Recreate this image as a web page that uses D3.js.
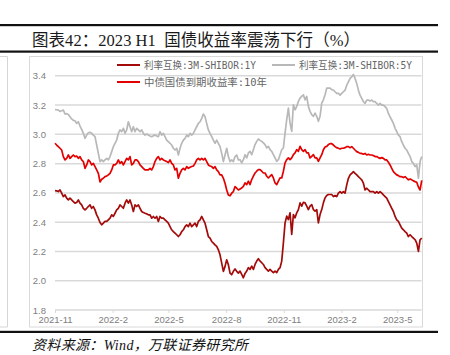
<!DOCTYPE html>
<html><head><meta charset="utf-8">
<script src="https://cdn.jsdelivr.net/npm/d3@7"></script>
<style>html,body{margin:0;padding:0;background:#fff;}svg{display:block;}</style>
</head><body>
<svg id="c" width="450" height="355"></svg>
<script>
// ---- data ----
const title = "图表42：2023 H1\u00a0\u00a0国债收益率震荡下行（%）";
const source = "资料来源：Wind，万联证券研究所";
const seriesNames = ["利率互换:3M-SHIBOR:1Y", "利率互换:3M-SHIBOR:5Y", "中债国债到期收益率:10年"];
const firstDate = new Date(2021, 10, 1);
const lastDate = new Date(2023, 5, 9);
const tickDates = [new Date(2021,10,1), new Date(2022,1,1), new Date(2022,4,1), new Date(2022,7,1), new Date(2022,10,1), new Date(2023,1,1), new Date(2023,4,1)];
const tickLabels = ["2021-11", "2022-2", "2022-5", "2022-8", "2022-11", "2023-2", "2023-5"];
const yTicks = [1.8, 2.0, 2.2, 2.4, 2.6, 2.8, 3.0, 3.2, 3.4];

const swap5Y = [
3.170,3.168,3.166,3.157,3.161,3.166,3.139,3.141,3.136,3.120,
3.105,3.095,3.093,3.075,3.086,3.057,3.034,3.007,2.973,2.995,
3.011,3.014,3.007,2.995,2.984,2.927,2.870,2.814,2.825,2.814,
2.825,2.836,2.825,2.848,2.882,2.916,2.939,2.961,3.007,3.030,
3.018,3.041,3.007,3.030,3.086,3.052,3.018,3.052,3.018,3.041,
3.030,3.018,3.030,3.007,2.995,
3.002,2.995,2.989,2.984,2.991,2.995,2.989,2.984,3.018,2.995,
3.007,2.984,2.961,2.950,2.939,2.927,2.905,2.893,2.905,2.859,
2.905,2.939,2.961,2.973,2.995,2.984,3.007,2.995,3.007,3.030,
3.052,3.075,3.086,3.109,3.139,3.120,3.075,3.030,3.007,2.984,
2.961,2.939,2.961,2.939,2.916,2.870,2.814,2.859,2.905,2.848,
2.814,2.825,2.814,2.848,2.859,2.825,
2.827,2.805,2.827,2.861,2.839,2.873,2.884,2.861,2.895,2.930,
2.952,2.968,2.959,2.952,2.941,2.930,2.907,2.918,2.895,2.884,
2.861,2.839,2.816,2.827,2.861,2.895,2.907,3.009,3.100,3.180,
3.077,3.020,3.202,3.168,3.191,3.225,3.248,3.259,3.270,3.236,
3.259,3.191,3.157,3.134,3.123,3.145,3.123,3.089,3.123,3.214,
3.236,3.270,3.316,3.316,3.316,3.305,
3.302,3.291,3.280,3.280,3.268,3.280,3.291,3.302,3.336,3.359,
3.382,3.393,3.409,3.382,3.348,3.302,3.268,3.245,3.223,3.211,
3.234,3.234,3.227,3.234,3.223,3.223,3.211,3.200,3.211,3.200,
3.200,3.189,3.177,3.143,3.120,3.098,3.075,3.041,3.018,2.995,
2.984,2.950,2.927,2.905,2.893,2.870,2.848,2.814,2.802,2.780,
2.791,2.700,2.814,2.848];

const cgb10Y = [
2.939,2.927,2.916,2.905,2.893,2.848,2.825,2.836,2.859,2.836,
2.848,2.859,2.848,2.852,2.836,2.848,2.825,2.814,2.768,2.791,
2.825,2.814,2.791,2.802,2.780,2.757,2.734,2.675,2.693,2.700,
2.711,2.716,2.723,2.734,2.757,2.791,2.791,2.802,2.825,2.802,
2.814,2.791,2.814,2.836,2.825,2.848,2.791,2.802,2.825,2.825,
2.814,2.791,2.780,2.768,2.757,
2.757,2.757,2.768,2.757,2.780,2.814,2.836,2.848,2.825,2.836,
2.825,2.820,2.814,2.807,2.825,2.802,2.791,2.757,2.768,2.700,
2.734,2.757,2.768,2.757,2.780,2.768,2.775,2.780,2.784,2.802,
2.825,2.836,2.825,2.836,2.825,2.836,2.814,2.791,2.784,2.780,
2.768,2.780,2.757,2.745,2.723,2.723,2.700,2.666,2.620,2.586,
2.580,2.598,2.609,2.643,2.632,2.620,
2.627,2.634,2.645,2.668,2.657,2.680,2.657,2.691,2.714,2.736,
2.748,2.759,2.759,2.748,2.736,2.736,2.714,2.702,2.714,2.725,
2.702,2.668,2.657,2.680,2.702,2.702,2.748,2.805,2.827,2.839,
2.827,2.839,2.861,2.873,2.895,2.884,2.918,2.895,2.884,2.895,
2.873,2.873,2.839,2.850,2.861,2.839,2.839,2.816,2.839,2.861,
2.895,2.914,2.918,2.930,2.936,2.936,
2.927,2.916,2.909,2.905,2.900,2.905,2.905,2.909,2.916,2.916,
2.909,2.916,2.905,2.893,2.882,2.877,2.870,2.870,2.864,2.870,
2.859,2.864,2.859,2.859,2.855,2.848,2.848,2.841,2.836,2.841,
2.836,2.825,2.825,2.809,2.791,2.768,2.745,2.734,2.723,2.718,
2.711,2.711,2.705,2.711,2.700,2.689,2.695,2.689,2.682,2.677,
2.673,2.640,2.620,2.685];

const swap1Y = [
2.616,2.614,2.609,2.620,2.598,2.575,2.586,2.564,2.552,2.564,
2.552,2.541,2.530,2.534,2.552,2.530,2.518,2.495,2.484,2.495,
2.507,2.518,2.495,2.507,2.484,2.450,2.427,2.398,2.382,2.393,
2.405,2.405,2.416,2.427,2.450,2.439,2.461,2.484,2.495,2.518,
2.507,2.495,2.530,2.552,2.530,2.552,2.518,2.473,2.518,2.507,
2.518,2.495,2.473,2.466,2.461,
2.457,2.450,2.450,2.427,2.439,2.427,2.439,2.405,2.439,2.427,
2.427,2.416,2.405,2.393,2.370,2.348,2.336,2.325,2.314,2.302,
2.314,2.336,2.348,2.370,2.382,2.370,2.393,2.370,2.382,2.393,
2.370,2.405,2.416,2.439,2.416,2.393,2.348,2.302,2.291,2.268,
2.257,2.245,2.234,2.211,2.177,2.120,2.064,2.098,2.143,2.109,
2.052,2.041,2.064,2.080,2.064,2.052,
2.066,2.043,2.020,2.050,2.066,2.089,2.077,2.100,2.077,2.111,
2.134,2.150,2.134,2.123,2.111,2.089,2.077,2.066,2.077,2.066,
2.055,2.066,2.055,2.077,2.089,2.134,2.259,2.395,2.441,2.418,
2.464,2.316,2.452,2.430,2.464,2.486,2.532,2.509,2.536,2.532,
2.509,2.486,2.509,2.520,2.486,2.475,2.486,2.395,2.452,2.486,
2.532,2.566,2.582,2.589,2.589,2.589,
2.575,2.582,2.575,2.598,2.609,2.598,2.609,2.598,2.655,2.700,
2.723,2.734,2.745,2.734,2.723,2.711,2.700,2.689,2.666,2.620,
2.632,2.620,2.609,2.609,2.609,2.598,2.609,2.598,2.609,2.598,
2.586,2.575,2.564,2.541,2.518,2.495,2.473,2.439,2.416,2.405,
2.382,2.359,2.348,2.336,2.325,2.302,2.314,2.302,2.291,2.280,
2.257,2.200,2.280,2.291];

const colors = {s1: "#a30a0a", s5: "#b8b8b8", g10: "#e30000"};

// ---- chart ----
const svg = d3.select("#c");
const N = swap1Y.length;
const dates = d3.range(N).map(i => new Date(+firstDate + (lastDate - firstDate) * i / (N - 1)));

const x = d3.scaleTime().domain([tickDates[0], tickDates[6]]).range([55, 397.3]);
const y = d3.scaleLinear().domain([1.8, 3.4]).range([310, 75.8]);

// header rules
svg.append("rect").attr("x", 0).attr("y", 24).attr("width", 438).attr("height", 2.2).attr("fill", "#111");
svg.append("rect").attr("x", 0).attr("y", 50.5).attr("width", 438).attr("height", 2.2).attr("fill", "#111");
svg.append("rect").attr("x", 0).attr("y", 330.8).attr("width", 438).attr("height", 2.2).attr("fill", "#111");

svg.append("text").attr("x", 32).attr("y", 45.5)
  .attr("font-family", "'Liberation Serif','Noto Sans CJK SC',serif")
  .attr("font-size", 16.5).attr("fill", "#1a1a1a")
  .attr("textLength", 328).attr("lengthAdjust", "spacing").text(title);

// left remnant frame
svg.append("path").attr("d", "M0,56.5H7.5V327H0").attr("fill", "none").attr("stroke", "#d6d6d6").attr("stroke-width", 1);
// plot frame
svg.append("rect").attr("x", 29.5).attr("y", 56.5).attr("width", 393).attr("height", 270.5)
  .attr("fill", "none").attr("stroke", "#d9d9d9").attr("stroke-width", 1);

// gridlines
const gy = svg.append("g");
gy.selectAll("line").data(yTicks).join("line")
  .attr("x1", 55).attr("x2", 421.5)
  .attr("y1", d => y(d)).attr("y2", d => y(d))
  .attr("stroke", "#d9d9d9").attr("stroke-width", 1.5);

// y axis labels
const yAxis = d3.axisLeft(y).tickValues(yTicks).tickFormat(d3.format(".1f")).tickSize(0).tickPadding(0);
const ga = svg.append("g").attr("transform", "translate(46,0)").call(yAxis);
ga.select(".domain").remove();
ga.selectAll("text").attr("font-family", "'Liberation Sans',Arial,sans-serif").attr("font-size", 9.5).attr("fill", "#808080");

// x axis
const xAxis = d3.axisBottom(x).tickValues(tickDates).tickFormat((d, i) => tickLabels[i]).tickSize(3).tickPadding(3);
const gx = svg.append("g").attr("transform", "translate(0,310)").call(xAxis);
gx.select(".domain").remove();
gx.selectAll("line").attr("stroke", "#d9d9d9").attr("stroke-width", 1);
gx.selectAll("text").attr("font-family", "'Liberation Sans',Arial,sans-serif").attr("font-size", 9.5).attr("fill", "#808080");

// lines
const line = d3.line().x((d, i) => x(dates[i])).y(d => y(d)).curve(d3.curveLinear);
[[swap5Y, colors.s5], [cgb10Y, colors.g10], [swap1Y, colors.s1]].forEach(([arr, col]) => {
  svg.append("path").datum(arr).attr("d", line).attr("fill", "none")
    .attr("stroke", col).attr("stroke-width", 1.7).attr("stroke-linejoin", "round");
});

// legend
const legend = [
  {name: seriesNames[0], col: colors.s1, lx: 117, ly: 65, w: 112},
  {name: seriesNames[1], col: colors.s5, lx: 272, ly: 65, w: 113},
  {name: seriesNames[2], col: colors.g10, lx: 117, ly: 82, w: 123}
];
const lg = svg.append("g");
legend.forEach(d => {
  lg.append("line").attr("x1", d.lx).attr("x2", d.lx + 23).attr("y1", d.ly).attr("y2", d.ly)
    .attr("stroke", d.col).attr("stroke-width", 2);
  lg.append("text").attr("x", d.lx + 27).attr("y", d.ly + 3.5)
    .attr("font-family", "'DejaVu Sans Mono','Noto Sans CJK SC',monospace")
    .attr("font-size", 10).attr("fill", "#666666")
    .attr("textLength", d.w).attr("lengthAdjust", "spacingAndGlyphs").text(d.name);
});

// source
svg.append("text").attr("x", 32).attr("y", 350)
  .attr("font-family", "'Liberation Serif','Noto Sans CJK SC',serif")
  .attr("font-style", "italic").attr("font-size", 14).attr("fill", "#111")
  .attr("textLength", 216).attr("lengthAdjust", "spacing").text(source);
</script>
</body></html>
